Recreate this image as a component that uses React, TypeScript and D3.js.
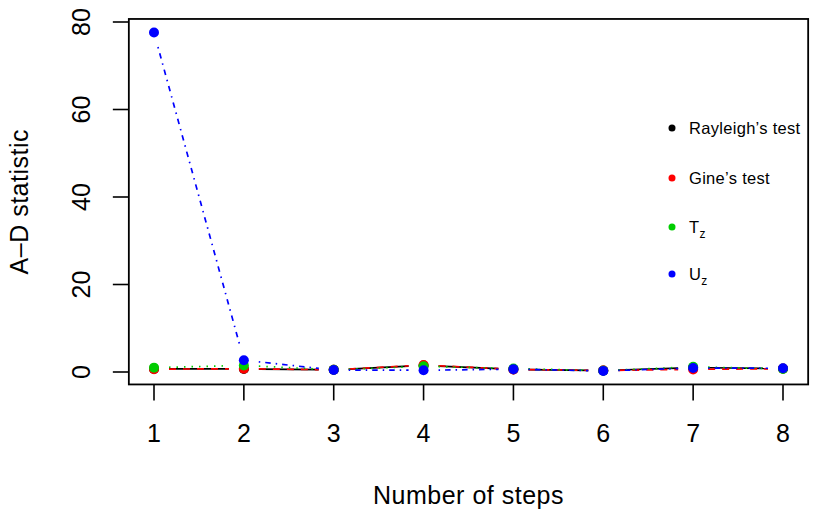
import React from "react";
import * as d3 from "d3";

const steps = [1, 2, 3, 4, 5, 6, 7, 8];
const rayleigh = [0.7, 0.7, 0.5, 1.5, 0.6, 0.35, 1.0, 0.8];
const gine = [0.65, 0.75, 0.5, 1.6, 0.6, 0.35, 0.6, 0.75];
const tz = [1.0, 1.5, 0.5, 1.3, 0.8, 0.3, 1.2, 0.7];
const uz = [77.6, 2.7, 0.45, 0.4, 0.65, 0.25, 0.9, 0.85];
const yTicks = [0, 20, 40, 60, 80];
const seriesNames = ["Rayleigh\u2019s test", "Gine\u2019s test", "T", "U"];
const seriesSubs = ["", "", "z", "z"];
const seriesColors = ["#000000", "#FF0000", "#00CD00", "#0000FF"];
const seriesDash = ["none", "7,7", "1.5,6", "1.5,5,5.5,5"];

const W = 830;
const H = 518;
const FONT = "'Liberation Sans', Arial, Helvetica, sans-serif";

export default function App() {
  const series = [rayleigh, gine, tz, uz];
  const all = series.flat();
  const [ymin, ymax] = d3.extent(all) as [number, number];
  const ypad = (ymax - ymin) * 0.04;
  const xpad = (8 - 1) * 0.04;

  const x = d3.scaleLinear().domain([1, 8]).range([154, 783]);
  const y = d3.scaleLinear().domain([0, 80]).range([372, 22]);

  const bx0 = x(1 - xpad);
  const bx1 = x(8 + xpad);
  const by0 = y(ymax + ypad);
  const by1 = y(ymin - ypad);

  const gap = 15;
  const segs = (vals: number[]) => {
    const out: { x1: number; y1: number; x2: number; y2: number }[] = [];
    for (let i = 0; i < vals.length - 1; i++) {
      const ax = x(steps[i]), ay = y(vals[i]);
      const bxx = x(steps[i + 1]), byy = y(vals[i + 1]);
      const dx = bxx - ax, dy = byy - ay;
      const len = Math.hypot(dx, dy);
      if (len <= 2 * gap) continue;
      const ux = dx / len, uy = dy / len;
      out.push({ x1: ax + ux * gap, y1: ay + uy * gap, x2: bxx - ux * gap, y2: byy - uy * gap });
    }
    return out;
  };

  const legendY = [128, 178, 227, 274];
  const midY = (by0 + by1) / 2;
  const midX = (bx0 + bx1) / 2;

  return (
    <svg width={W} height={H} style={{ position: "absolute", left: 0, top: 0, background: "#fff" }} fontFamily={FONT}>
      <rect x={0} y={0} width={W} height={H} fill="#fff" />
      {series.map((vals, si) => (
        <g key={"l" + si}>
          {segs(vals).map((s, i) => (
            <line key={i} x1={s.x1} y1={s.y1} x2={s.x2} y2={s.y2} stroke={seriesColors[si]} strokeWidth={1.7} strokeDasharray={seriesDash[si]} />
          ))}
        </g>
      ))}
      {series.map((vals, si) => (
        <g key={"p" + si}>
          {vals.map((v, i) => (
            <circle key={i} cx={x(steps[i])} cy={y(v)} r={5} fill={seriesColors[si]} />
          ))}
        </g>
      ))}
      <rect x={bx0} y={by0} width={bx1 - bx0} height={by1 - by0} fill="none" stroke="#000" strokeWidth={1.8} />
      {steps.map((s) => (
        <g key={"xt" + s}>
          <line x1={x(s)} x2={x(s)} y1={by1} y2={by1 + 16} stroke="#000" strokeWidth={1.6} />
          <text x={x(s)} y={442} textAnchor="middle" fontSize={25}>{s}</text>
        </g>
      ))}
      {yTicks.map((t) => (
        <g key={"yt" + t}>
          <line x1={bx0} x2={bx0 - 16} y1={y(t)} y2={y(t)} stroke="#000" strokeWidth={1.6} />
          <text transform={`translate(90,${y(t)}) rotate(-90)`} textAnchor="middle" fontSize={25}>{t}</text>
        </g>
      ))}
      <text x={midX} y={504} textAnchor="middle" fontSize={25} letterSpacing={0.5}>Number of steps</text>
      <text transform={`translate(28,${midY}) rotate(-90)`} textAnchor="middle" fontSize={25} letterSpacing={0.5}>A{"\u2013"}D statistic</text>
      {seriesNames.map((n, i) => (
        <g key={"lg" + i}>
          <circle cx={672} cy={legendY[i]} r={3.5} fill={seriesColors[i]} />
          <text x={689} y={legendY[i] + 6} fontSize={16.5} letterSpacing={0.3}>
            {n}
            {seriesSubs[i] ? (
              <tspan fontSize={12} dy={5}>{seriesSubs[i]}</tspan>
            ) : null}
          </text>
        </g>
      ))}
    </svg>
  );
}
